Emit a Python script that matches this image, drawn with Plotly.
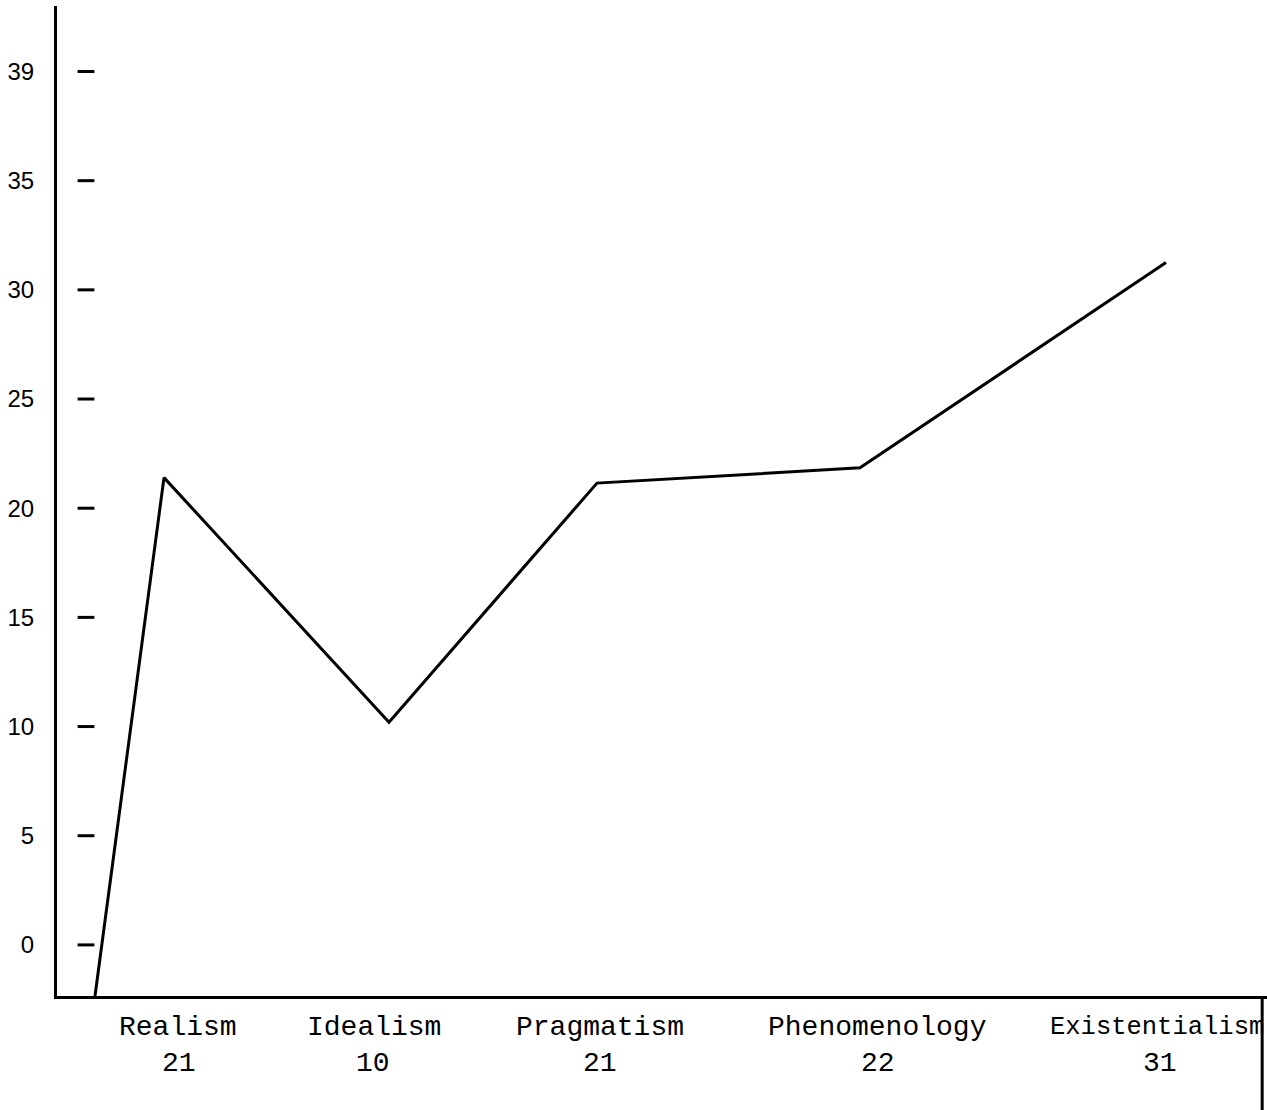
import plotly.graph_objects as go

# Data
categories = ["Realism", "Idealism", "Pragmatism", "Phenomenology", "Existentialism"]
scores = ["21", "10", "21", "22", "31"]
# Hand-drawn line: starting point at the base, then one vertex per category
line_x = [0.38, 1.07, 3.32, 5.40, 8.03, 11.09]
line_y = [-2.34, 21.4, 10.2, 21.15, 21.85, 31.25]
# Category label positions along the x axis (name row centres, score row centres)
label_x = [1.21, 3.17, 5.43, 8.20, 11.00]
score_x = [1.22, 3.16, 5.43, 8.21, 11.03]
label_size = [28, 28, 28, 28, 25.5]
# Y tick values and their printed labels (top label printed as "39")
ytick_vals = [0, 5, 10, 15, 20, 25, 30, 35, 40]
ytick_text = ["0", "5", "10", "15", "20", "25", "30", "35", "39"]
tick_mark_x = 0.29

fig = go.Figure()

# tick dashes drawn inside the plot
fig.add_trace(go.Scatter(
    x=[tick_mark_x] * len(ytick_vals), y=ytick_vals, mode="markers",
    marker=dict(symbol="line-ew", size=12, line=dict(width=3, color="black")),
    hoverinfo="skip", showlegend=False,
))

fig.add_trace(go.Scatter(
    x=line_x, y=line_y, mode="lines",
    line=dict(color="black", width=3),
    showlegend=False,
))

# right-hand frame line below the axis
fig.add_shape(type="line", xref="paper", yref="paper", x0=0.996, x1=0.996, y0=0.0, y1=-0.12,
              layer="above", line=dict(color="black", width=3))

for x, name, sz in zip(label_x, categories, label_size):
    fig.add_annotation(x=x, xref="x", y=0, yref="paper", text=name, showarrow=False,
                       yanchor="middle", yshift=-31,
                       font=dict(family="Liberation Mono", size=sz, color="black"))
for x, s in zip(score_x, scores):
    fig.add_annotation(x=x, xref="x", y=0, yref="paper", text=s, showarrow=False,
                       yanchor="middle", yshift=-67,
                       font=dict(family="Liberation Mono", size=28, color="black"))

fig.update_layout(
    width=1267, height=1110,
    margin=dict(l=57, r=0, t=6, b=114),
    paper_bgcolor="white", plot_bgcolor="white",
    showlegend=False,
)
fig.update_xaxes(
    range=[0, 12.1], showgrid=False, zeroline=False,
    showline=True, linecolor="black", linewidth=2.5,
    showticklabels=False, ticks="",
)
fig.update_yaxes(
    range=[-2.34, 43.0], showgrid=False, zeroline=False,
    showline=True, linecolor="black", linewidth=3,
    tickvals=ytick_vals, ticktext=ytick_text,
    ticks="", ticklabelstandoff=15,
    tickfont=dict(family="Liberation Sans", size=24, color="black"),
)

fig.write_html(
    "out.html",
    config={"displayModeBar": False},
    post_script="document.body.style.margin='0';document.body.style.overflow='hidden';",
)
